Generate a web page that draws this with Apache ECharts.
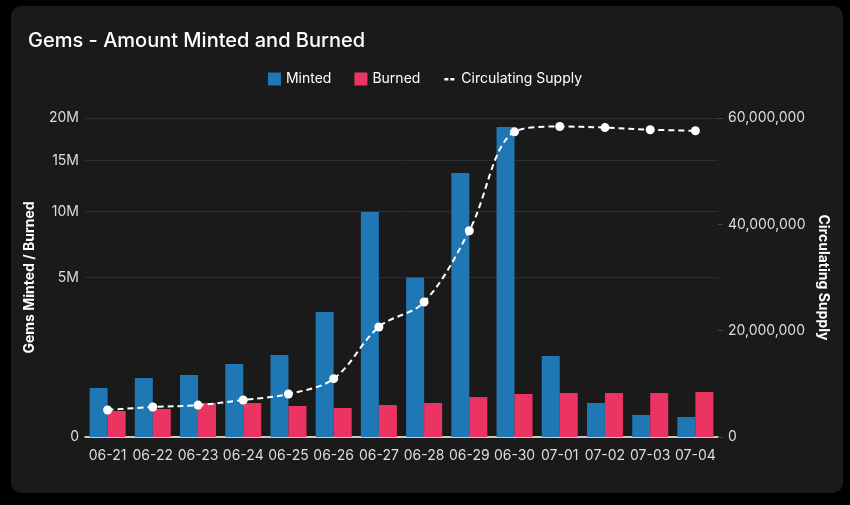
<!DOCTYPE html>
<html>
<head>
<meta charset="utf-8">
<script src="https://cdn.jsdelivr.net/npm/echarts@6/dist/echarts.min.js"></script>
<style>
  html, body { margin: 0; padding: 0; background: #000; }
  #chart { width: 850px; height: 505px; }
</style>
</head>
<body>
<div id="chart"></div>
<script>
// 数据
var days = ["06-21", "06-22", "06-23", "06-24", "06-25", "06-26", "06-27",
  "06-28", "06-29", "06-30", "07-01", "07-02", "07-03", "07-04"];
var minted = [472000, 684000, 755000, 1047000, 1320000, 3070000, 9950000,
  5000000, 13700000, 18900000, 1290000, 227000, 95000, 79000];
var burned = [133000, 154000, 227000, 227000, 189000, 165000, 201000,
  227000, 314000, 363000, 380000, 380000, 380000, 398000];
var supply = [5080000, 5640000, 6000000, 6960000, 8090000, 10970000, 20700000,
  25400000, 38800000, 57400000, 58400000, 58200000, 57800000, 57600000];
// 左轴刻度（平方根刻度）
var leftTicks = [0, 5000000, 10000000, 15000000, 20000000];

(function() {
  var myChart = echarts.init(document.getElementById("chart"));
  var font = "Inter, 'Noto Sans', sans-serif";

  function toSqrt(arr) {
    return arr.map(function(v) { return Math.sqrt(v); });
  }

  var option = {
    backgroundColor: "#000",
    textStyle: { fontFamily: font },
    graphic: [
      {
        type: "rect",
        z: -10,
        shape: { x: 11, y: 6, width: 832, height: 487, r: 10 },
        style: { fill: "#1a1a1a" }
      }
    ],
    title: {
      text: "Gems - Amount Minted and Burned",
      left: 23,
      top: 26,
      textStyle: { color: "#fff", fontSize: 20, fontWeight: 500, fontFamily: font }
    },
    legend: {
      top: 67,
      left: "center",
      itemWidth: 13,
      itemHeight: 13,
      itemGap: 23,
      textStyle: { color: "#fff", fontSize: 14, fontFamily: font },
      data: [
        { name: "Minted", icon: "rect" },
        { name: "Burned", icon: "rect" },
        {
          name: "Circulating Supply",
          icon: "path://M0,0L0.01,0M12.99,13L13,13M1,5.5h4v2.5h-4zM7,5.5h4v2.5h-4z"
        }
      ]
    },
    grid: {
      left: 85,
      right: 132,
      top: 118,
      bottom: 68
    },
    xAxis: {
      type: "category",
      data: days,
      axisLine: { lineStyle: { color: "#fff", width: 1.5 } },
      axisTick: { alignWithLabel: true, length: 4, lineStyle: { color: "#444" } },
      axisLabel: { color: "#ddd", fontSize: 14, margin: 12, interval: 0 }
    },
    yAxis: [
      {
        type: "value",
        min: 0,
        max: Math.sqrt(20000000),
        name: "Gems Minted / Burned",
        nameLocation: "middle",
        nameGap: 48,
        nameTextStyle: { color: "#fff", fontSize: 14, fontWeight: "bold" },
        axisLine: { show: false },
        axisTick: { show: false, customValues: toSqrt(leftTicks) },
        axisLabel: {
          color: "#ddd",
          fontSize: 14,
          margin: 6,
          customValues: toSqrt(leftTicks),
          formatter: function(v) {
            var n = Math.round(v * v);
            return n === 0 ? "0" : Math.round(n / 1000000) + "M";
          }
        },
        splitLine: { lineStyle: { color: "#2e2e2e" } }
      },
      {
        type: "value",
        min: 0,
        max: 60000000,
        interval: 20000000,
        name: "Circulating Supply",
        nameLocation: "middle",
        nameRotate: -90,
        nameGap: 97,
        nameTextStyle: { color: "#fff", fontSize: 14, fontWeight: "bold" },
        axisLine: { show: false },
        axisTick: { show: true, length: 5, lineStyle: { color: "#444" } },
        axisLabel: {
          color: "#ddd",
          fontSize: 14,
          margin: 10,
          formatter: function(v) { return v.toLocaleString("en-US"); }
        },
        splitLine: { show: false }
      }
    ],
    series: [
      {
        name: "Minted",
        type: "bar",
        barWidth: 18,
        barGap: "0%",
        itemStyle: { color: "#1f77b4" },
        data: toSqrt(minted)
      },
      {
        name: "Burned",
        type: "bar",
        barWidth: 18,
        barGap: "0%",
        itemStyle: { color: "#eb3461" },
        data: toSqrt(burned)
      },
      {
        name: "Circulating Supply",
        type: "line",
        yAxisIndex: 1,
        smooth: 0.35,
        symbol: "circle",
        symbolSize: 9,
        itemStyle: { color: "#fff" },
        lineStyle: { color: "#fff", width: 2, type: [6, 4] },
        data: supply
      }
    ]
  };

  myChart.setOption(option);
  window.addEventListener("resize", function() {
    myChart.resize();
  });
})();
</script>
</body>
</html>
